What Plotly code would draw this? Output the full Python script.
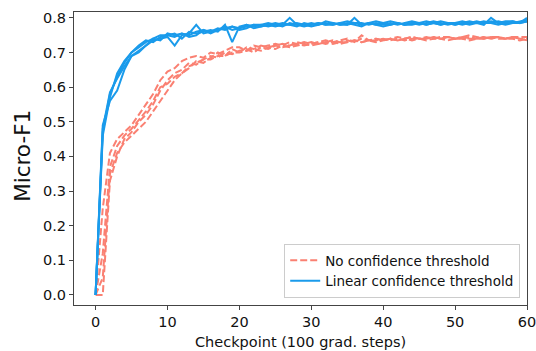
import plotly.graph_objects as go

series_names = ["No confidence threshold", "Linear confidence threshold"]

no_thr_runs = [
    [0, 0.0, 0.33, 0.40, 0.45, 0.47, 0.50, 0.52, 0.55, 0.59, 0.62, 0.64, 0.65, 0.67, 0.665, 0.68, 0.69, 0.685, 0.70, 0.695, 0.705, 0.71, 0.70, 0.715, 0.71, 0.72, 0.715, 0.72, 0.725, 0.72, 0.725, 0.73, 0.725, 0.73, 0.725, 0.73, 0.735, 0.73, 0.735, 0.73, 0.735, 0.74, 0.735, 0.74, 0.735, 0.74, 0.74, 0.745, 0.74, 0.735, 0.74, 0.745, 0.74, 0.74, 0.745, 0.74, 0.745, 0.74, 0.745, 0.74, 0.74],
    [0, 0.25, 0.41, 0.45, 0.47, 0.49, 0.52, 0.55, 0.58, 0.62, 0.645, 0.655, 0.675, 0.685, 0.69, 0.685, 0.70, 0.695, 0.705, 0.715, 0.715, 0.705, 0.72, 0.715, 0.72, 0.725, 0.72, 0.73, 0.725, 0.73, 0.725, 0.73, 0.735, 0.73, 0.735, 0.74, 0.73, 0.75, 0.735, 0.74, 0.735, 0.74, 0.745, 0.74, 0.745, 0.74, 0.745, 0.74, 0.745, 0.745, 0.74, 0.745, 0.75, 0.745, 0.74, 0.745, 0.745, 0.74, 0.745, 0.745, 0.745],
    [0, 0.12, 0.37, 0.43, 0.46, 0.48, 0.505, 0.53, 0.56, 0.60, 0.61, 0.63, 0.64, 0.66, 0.67, 0.68, 0.68, 0.69, 0.69, 0.70, 0.70, 0.705, 0.71, 0.705, 0.715, 0.71, 0.72, 0.715, 0.72, 0.725, 0.72, 0.725, 0.73, 0.725, 0.73, 0.73, 0.735, 0.73, 0.735, 0.735, 0.74, 0.735, 0.74, 0.735, 0.74, 0.74, 0.735, 0.74, 0.74, 0.745, 0.74, 0.74, 0.735, 0.74, 0.74, 0.745, 0.74, 0.74, 0.74, 0.735, 0.74],
    [0, 0.05, 0.35, 0.41, 0.44, 0.46, 0.48, 0.50, 0.53, 0.56, 0.59, 0.62, 0.64, 0.655, 0.675, 0.67, 0.685, 0.70, 0.69, 0.71, 0.70, 0.715, 0.71, 0.72, 0.715, 0.72, 0.725, 0.72, 0.73, 0.725, 0.73, 0.725, 0.73, 0.735, 0.73, 0.735, 0.73, 0.74, 0.735, 0.74, 0.735, 0.74, 0.735, 0.74, 0.745, 0.74, 0.74, 0.745, 0.74, 0.745, 0.74, 0.74, 0.745, 0.74, 0.745, 0.74, 0.745, 0.74, 0.745, 0.74, 0.735],
]

linear_thr_runs = [
    [0, 0.47, 0.58, 0.63, 0.67, 0.70, 0.715, 0.73, 0.74, 0.75, 0.75, 0.745, 0.755, 0.75, 0.76, 0.765, 0.76, 0.77, 0.765, 0.775, 0.77, 0.78, 0.775, 0.78, 0.785, 0.78, 0.775, 0.785, 0.78, 0.78, 0.785, 0.78, 0.785, 0.78, 0.785, 0.79, 0.785, 0.78, 0.785, 0.79, 0.785, 0.78, 0.785, 0.78, 0.785, 0.785, 0.79, 0.785, 0.78, 0.785, 0.785, 0.79, 0.785, 0.785, 0.79, 0.785, 0.79, 0.785, 0.785, 0.79, 0.795],
    [0, 0.49, 0.56, 0.59, 0.65, 0.69, 0.70, 0.72, 0.735, 0.74, 0.745, 0.72, 0.75, 0.755, 0.78, 0.755, 0.76, 0.765, 0.775, 0.765, 0.77, 0.775, 0.78, 0.775, 0.78, 0.775, 0.78, 0.80, 0.78, 0.775, 0.78, 0.785, 0.78, 0.785, 0.78, 0.78, 0.80, 0.78, 0.785, 0.78, 0.775, 0.78, 0.785, 0.78, 0.78, 0.785, 0.78, 0.785, 0.78, 0.785, 0.78, 0.785, 0.78, 0.785, 0.78, 0.80, 0.785, 0.78, 0.785, 0.785, 0.79],
    [0, 0.46, 0.57, 0.64, 0.675, 0.70, 0.72, 0.735, 0.73, 0.745, 0.75, 0.755, 0.74, 0.76, 0.755, 0.76, 0.765, 0.76, 0.78, 0.73, 0.775, 0.78, 0.77, 0.775, 0.78, 0.785, 0.78, 0.78, 0.785, 0.78, 0.775, 0.78, 0.79, 0.785, 0.78, 0.785, 0.78, 0.775, 0.785, 0.78, 0.785, 0.79, 0.785, 0.78, 0.785, 0.78, 0.785, 0.79, 0.785, 0.78, 0.785, 0.78, 0.785, 0.79, 0.785, 0.79, 0.785, 0.79, 0.79, 0.785, 0.79],
    [0, 0.48, 0.585, 0.625, 0.66, 0.69, 0.705, 0.72, 0.74, 0.735, 0.755, 0.75, 0.755, 0.745, 0.75, 0.765, 0.755, 0.765, 0.77, 0.775, 0.765, 0.77, 0.78, 0.78, 0.775, 0.78, 0.785, 0.78, 0.775, 0.785, 0.78, 0.785, 0.78, 0.78, 0.785, 0.78, 0.785, 0.785, 0.78, 0.785, 0.78, 0.785, 0.78, 0.785, 0.79, 0.785, 0.78, 0.785, 0.79, 0.785, 0.78, 0.785, 0.79, 0.785, 0.785, 0.785, 0.78, 0.785, 0.79, 0.785, 0.80],
]

x_ticks = [0, 10, 20, 30, 40, 50, 60]
y_ticks = [0.0, 0.1, 0.2, 0.3, 0.4, 0.5, 0.6, 0.7, 0.8]
x_title = "Checkpoint (100 grad. steps)"
y_title = "Micro-F1"

RED = "#FA8072"
BLUE = "#1A9BEB"

fig = go.Figure()
for i, run in enumerate(no_thr_runs):
    fig.add_trace(go.Scatter(
        x=list(range(len(run))), y=run, mode="lines",
        line=dict(color=RED, width=2, dash="7px,3px"),
        name=series_names[0], legendgroup="a", showlegend=(i == 0)))
for i, run in enumerate(linear_thr_runs):
    fig.add_trace(go.Scatter(
        x=list(range(len(run))), y=run, mode="lines",
        line=dict(color=BLUE, width=2),
        name=series_names[1], legendgroup="b", showlegend=(i == 0)))

axis_common = dict(showline=True, mirror=True, linecolor="#444", linewidth=1,
                   ticks="outside", ticklen=4, tickcolor="#444", showgrid=False,
                   zeroline=False, automargin=False, ticklabeloverflow="allow",
                   tickfont=dict(size=14.5, color="#111"))

fig.update_layout(
    width=536, height=351,
    margin=dict(l=74, r=9, t=12, b=46),
    paper_bgcolor="white", plot_bgcolor="white",
    font=dict(family="DejaVu Sans", color="#111"),
    xaxis=dict(range=[-3, 60], tickvals=x_ticks, **axis_common),
    yaxis=dict(range=[-0.029, 0.817], tickvals=y_ticks, tickformat=".1f", **axis_common),
    legend=dict(x=0.985, y=0.024, xanchor="right", yanchor="bottom",
                bordercolor="#ccc", borderwidth=1, bgcolor="rgba(255,255,255,0.8)",
                font=dict(size=13.5), tracegroupgap=0),
    annotations=[
        dict(text=x_title, xref="paper", yref="paper", x=0.499, y=-0.126,
             xanchor="center", yanchor="middle", showarrow=False, font=dict(size=14.5)),
        dict(text=y_title, xref="paper", yref="paper", x=-0.1126, y=0.509,
             xanchor="center", yanchor="middle", showarrow=False, textangle=-90,
             font=dict(size=21.5)),
    ],
)

fig.write_html("out.html", config={"displayModeBar": False},
               post_script="document.body.style.margin='0';")
